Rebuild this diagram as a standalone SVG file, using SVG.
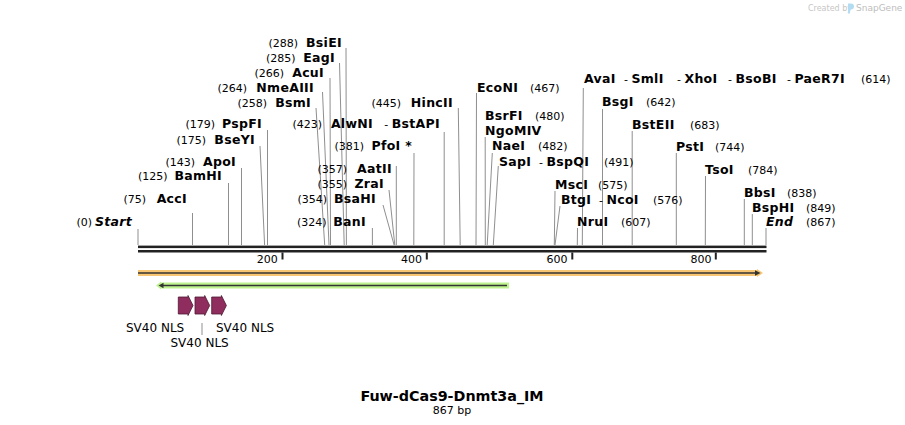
<svg xmlns="http://www.w3.org/2000/svg" width="905" height="425" viewBox="0 0 905 425">
<style>
text { font-family: "DejaVu Sans", Verdana, sans-serif; fill: #000; }
.nm { font-size: 12.5px; font-weight: bold; letter-spacing: 0.3px; }
.num { font-size: 11px; font-weight: normal; letter-spacing: 0; }
.it { font-style: italic; }
.e { text-anchor: end; }
.l { stroke: #8f8f8f; stroke-width: 1; fill: none; }
.tk { font-size: 11px; text-anchor: end; }
.nls { fill: #8f2d5e; stroke: #4f1733; stroke-width: 0.8; }
.fl { font-size: 12px; }
</style>
<rect width="905" height="425" fill="#fff"/>

<g id="watermark">
<text x="808" y="10.5" style="font-size:8px;fill:#c6c6c6">Created by</text>
<path d="M848,3.5 h3 a3,3 0 0 1 0,6 h-1 v4 h-2 z" fill="#b3dcf2"/>
<text x="856" y="11" style="font-size:9px;fill:#bdbdbd">SnapGene</text>
</g>

<g id="connectors">
<line class="l" x1="138" y1="229" x2="138" y2="245"/>
<line class="l" x1="192.5" y1="213" x2="192.5" y2="245"/>
<line class="l" x1="228.5" y1="183" x2="228.5" y2="245"/>
<line class="l" x1="241.5" y1="168" x2="241.5" y2="245"/>
<line class="l" x1="260" y1="146" x2="264.6" y2="245"/>
<line class="l" x1="267.5" y1="130" x2="267.5" y2="245"/>
<line class="l" x1="316" y1="108" x2="324.7" y2="245"/>
<line class="l" x1="322.5" y1="92" x2="329" y2="245"/>
<line class="l" x1="330" y1="78" x2="330.5" y2="245"/>
<line class="l" x1="339.5" y1="63" x2="344.2" y2="245"/>
<line class="l" x1="346" y1="48" x2="346.4" y2="245"/>
<line class="l" x1="372.4" y1="228" x2="372.4" y2="245"/>
<line class="l" x1="383" y1="205" x2="394.1" y2="245"/>
<line class="l" x1="389" y1="190" x2="394.8" y2="245"/>
<line class="l" x1="396.3" y1="166" x2="396.3" y2="245"/>
<line class="l" x1="414" y1="153" x2="413.8" y2="245"/>
<line class="l" x1="444.2" y1="132" x2="444.2" y2="245"/>
<line class="l" x1="458.3" y1="108" x2="460.2" y2="245"/>
<line class="l" x1="476.5" y1="93" x2="476" y2="245"/>
<line class="l" x1="485.2" y1="137" x2="485.3" y2="245"/>
<line class="l" x1="492.3" y1="153" x2="487.2" y2="245"/>
<line class="l" x1="498.3" y1="166" x2="493.3" y2="245"/>
<line class="l" x1="555" y1="191" x2="554.3" y2="245"/>
<line class="l" x1="560" y1="206" x2="555" y2="245"/>
<line class="l" x1="577.5" y1="228" x2="577.3" y2="245"/>
<line class="l" x1="583.3" y1="88" x2="582.3" y2="245"/>
<line class="l" x1="602.5" y1="109" x2="602.5" y2="245"/>
<line class="l" x1="632.2" y1="131" x2="632.2" y2="245"/>
<line class="l" x1="676.3" y1="153" x2="676.3" y2="245"/>
<line class="l" x1="705.5" y1="176" x2="705.3" y2="245"/>
<line class="l" x1="744.3" y1="199" x2="744.3" y2="245"/>
<line class="l" x1="752.3" y1="214" x2="752.3" y2="245"/>
<line class="l" x1="766" y1="228" x2="766" y2="245"/>
<line class="l" x1="202" y1="323" x2="202" y2="335"/>
</g>

<g id="ruler">
<rect x="138" y="245.6" width="628.5" height="2.5" fill="#222"/>
<rect x="138" y="250" width="628.5" height="2.5" fill="#222"/>
<rect x="281.5" y="252.5" width="2" height="7" fill="#222"/>
<rect x="425.8" y="252.5" width="2" height="7" fill="#222"/>
<rect x="571.3" y="252.5" width="2" height="7" fill="#222"/>
<rect x="714.8" y="252.5" width="2" height="7" fill="#222"/>
<text class="tk" x="277.8" y="263">200</text>
<text class="tk" x="422" y="263">400</text>
<text class="tk" x="567.5" y="263">600</text>
<text class="tk" x="711.5" y="263">800</text>
</g>

<g id="feature-orange">
<polygon points="138,270 757,270 757,269 763,273 757,277 757,276 138,276" fill="#f8c672"/>
<line x1="138" y1="273" x2="756" y2="273" stroke="#333" stroke-width="1.6"/>
<polygon points="755,270.3 760.5,273 755,275.7" fill="#333"/>
</g>

<g id="feature-green">
<polygon points="509,282.5 161,282.5 161,281.5 156,285.5 161,289.5 161,288.5 509,288.5" fill="#bdf28f"/>
<line x1="162" y1="285.5" x2="507" y2="285.5" stroke="#333" stroke-width="1.6"/>
<polygon points="163.5,282.8 158.5,285.5 163.5,288.2" fill="#333"/>
</g>

<g id="nls-1">
<polygon class="nls" points="178.3,297 188,297 188,295.5 193,305.5 188,315.5 188,314 178.3,314"/>
<text class="fl" x="126" y="331.5">SV40 NLS</text>
</g>
<g id="nls-2">
<polygon class="nls" points="195,297 204.7,297 204.7,295.5 209.7,305.5 204.7,315.5 204.7,314 195,314"/>
<text class="fl" x="170.5" y="347">SV40 NLS</text>
</g>
<g id="nls-3">
<polygon class="nls" points="211.7,297 221.4,297 221.4,295.5 226.4,305.5 221.4,315.5 221.4,314 211.7,314"/>
<text class="fl" x="216" y="331.5">SV40 NLS</text>
</g>

<g id="start"><text class="num e" x="92" y="226">(0)</text><text class="nm it e" x="132" y="226">Start</text></g>
<g id="AccI"><text class="num e" x="146" y="202.5">(75)</text><text class="nm e" x="187" y="202.5">AccI</text></g>
<g id="BamHI"><text class="num e" x="167.5" y="180">(125)</text><text class="nm e" x="222" y="180">BamHI</text></g>
<g id="ApoI"><text class="num e" x="195" y="165.5">(143)</text><text class="nm e" x="236" y="165.5">ApoI</text></g>
<g id="BseYI"><text class="num e" x="206" y="143.5">(175)</text><text class="nm e" x="255" y="143.5">BseYI</text></g>
<g id="PspFI"><text class="num e" x="215" y="128">(179)</text><text class="nm e" x="262" y="128">PspFI</text></g>
<g id="BsmI"><text class="num e" x="267" y="106.5">(258)</text><text class="nm e" x="311" y="106.5">BsmI</text></g>
<g id="NmeAIII"><text class="num e" x="247" y="91.5">(264)</text><text class="nm e" x="314" y="91.5">NmeAIII</text></g>
<g id="AcuI"><text class="num e" x="284" y="76.5">(266)</text><text class="nm e" x="324" y="76.5">AcuI</text></g>
<g id="EagI"><text class="num e" x="295.5" y="61.5">(285)</text><text class="nm e" x="335" y="61.5">EagI</text></g>
<g id="BsiEI"><text class="num e" x="298" y="46.5">(288)</text><text class="nm e" x="342" y="46.5">BsiEI</text></g>

<g id="BanI"><text class="num e" x="326.5" y="226">(324)</text><text class="nm e" x="366" y="226">BanI</text></g>
<g id="BsaHI"><text class="num e" x="327" y="202.5">(354)</text><text class="nm e" x="376" y="202.5">BsaHI</text></g>
<g id="ZraI"><text class="num e" x="347" y="187.5">(355)</text><text class="nm e" x="384" y="187.5">ZraI</text></g>
<g id="AatII"><text class="num e" x="347" y="172.5">(357)</text><text class="nm e" x="392" y="172.5">AatII</text></g>
<g id="PfoI"><text class="num e" x="364" y="149.5">(381)</text><text class="nm e" x="412" y="149.5">PfoI *</text></g>
<g id="AlwNI"><text class="num e" x="322" y="128">(423)</text><text class="nm e" x="373" y="128">AlwNI</text><text class="e" x="440" y="128"><tspan class="num">- </tspan><tspan class="nm">BstAPI</tspan></text></g>
<g id="HincII"><text class="num e" x="401" y="106.5">(445)</text><text class="nm e" x="453" y="106.5">HincII</text></g>
<g id="EcoNI"><text class="nm" x="477" y="91.5">EcoNI</text><text class="num" x="530" y="91.5">(467)</text></g>
<g id="BsrFI"><text class="nm" x="485" y="120">BsrFI</text><text class="num" x="535" y="120">(480)</text></g>
<g id="NgoMIV"><text class="nm" x="485" y="135">NgoMIV</text></g>
<g id="NaeI"><text class="nm" x="492" y="150">NaeI</text><text class="num" x="538" y="150">(482)</text></g>
<g id="SapI"><text class="nm" x="499" y="165.5">SapI</text><text x="539" y="165.5"><tspan class="num">- </tspan><tspan class="nm">BspQI</tspan></text><text class="num" x="604" y="165.5">(491)</text></g>

<g id="AvaI"><text class="nm" x="584" y="82.5">AvaI</text><text x="624" y="82.5"><tspan class="num">- </tspan><tspan class="nm">SmlI</tspan></text><text x="677" y="82.5"><tspan class="num">- </tspan><tspan class="nm">XhoI</tspan></text><text x="728" y="82.5"><tspan class="num">- </tspan><tspan class="nm">BsoBI</tspan></text><text x="787" y="82.5"><tspan class="num">- </tspan><tspan class="nm">PaeR7I</tspan></text><text class="num" x="861" y="82.5">(614)</text></g>
<g id="BsgI"><text class="nm" x="602" y="105.5">BsgI</text><text class="num" x="646" y="105.5">(642)</text></g>
<g id="BstEII"><text class="nm" x="632" y="128.5">BstEII</text><text class="num" x="690" y="128.5">(683)</text></g>
<g id="PstI"><text class="nm" x="676" y="150.5">PstI</text><text class="num" x="715" y="150.5">(744)</text></g>
<g id="TsoI"><text class="nm" x="705" y="173.5">TsoI</text><text class="num" x="748" y="173.5">(784)</text></g>
<g id="MscI"><text class="nm" x="555" y="188.5">MscI</text><text class="num" x="598" y="188.5">(575)</text></g>
<g id="BtgI"><text class="nm" x="561" y="203.5">BtgI</text><text x="599" y="203.5"><tspan class="num">- </tspan><tspan class="nm">NcoI</tspan></text><text class="num" x="653" y="203.5">(576)</text></g>
<g id="NruI"><text class="nm" x="577" y="226">NruI</text><text class="num" x="621" y="226">(607)</text></g>
<g id="BbsI"><text class="nm" x="744" y="196.5">BbsI</text><text class="num" x="787" y="196.5">(838)</text></g>
<g id="BspHI"><text class="nm" x="752" y="211.5">BspHI</text><text class="num" x="806" y="211.5">(849)</text></g>
<g id="end"><text class="nm it" x="766" y="226">End</text><text class="num" x="806" y="226">(867)</text></g>

<g id="title">
<text x="452" y="400.5" text-anchor="middle" style="font-size:14.3px;font-weight:bold">Fuw-dCas9-Dnmt3a_IM</text>
<text x="452" y="413.5" text-anchor="middle" style="font-size:11px">867 bp</text>
</g>
</svg>
